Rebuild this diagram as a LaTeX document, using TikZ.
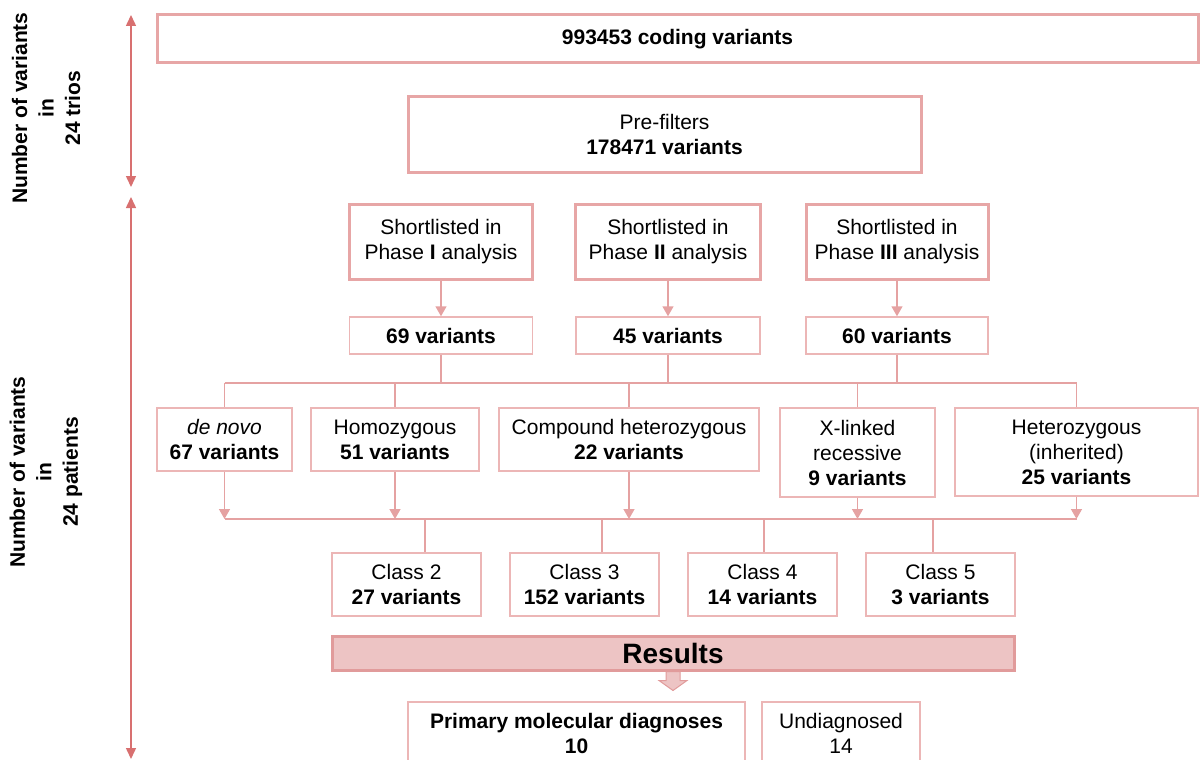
\documentclass[tikz,border=0pt]{standalone}
\usepackage{fontspec}
\setmainfont{Liberation Sans}
\usetikzlibrary{arrows.meta}
\definecolor{boxpink}{RGB}{231,166,166}
\definecolor{thinpink}{RGB}{236,182,182}
\definecolor{linkpink}{RGB}{229,162,162}
\definecolor{sidered}{RGB}{216,112,112}
\definecolor{resfill}{RGB}{237,196,196}
\definecolor{resdraw}{RGB}{225,155,155}

\begin{document}
\begin{tikzpicture}[x=1pt,y=-1pt,
   every node/.style={align=center,inner sep=0pt,font=\fontsize{21}{25}\selectfont},
   thickbox/.style={draw=boxpink,line width=3pt},
   thinbox/.style={draw=thinpink,line width=1.5pt},
   link/.style={draw=linkpink,line width=1.5pt},
   linkarrow/.style={link,-{Triangle[width=11pt,length=10pt]}},
   sidearrow/.style={draw=sidered,line width=1.5pt,
      {Triangle[width=10pt,length=11pt]}-{Triangle[width=10pt,length=11pt]}},
   sidelabel/.style={rotate=90,font=\fontsize{21}{26.5}\selectfont\bfseries}]
   \clip (0,0) rectangle (1203,760);
   % side scales
   \coordinate (trtop) at (131,15);
   \coordinate (trbot) at (131,187);
   \coordinate (patop) at (131,197);
   \coordinate (pabot) at (131,759);
   \draw[sidearrow] (trtop) -- (trbot);
   \draw[sidearrow] (patop) -- (pabot);
   \node[sidelabel] (trios) at (46,108) {Number of variants\\in\\24 trios};
   \node[sidelabel] (patients) at (46,472) {Number of variants\\in\\24 patients};
   % filters
   \node[thickbox,minimum width=1041,minimum height=48] (all) at (677.5,39) {\textbf{993453 coding variants}};
   \node[thickbox,minimum width=513,minimum height=75] (pre) at (664.5,134.5) {Pre-filters\\\textbf{178471 variants}};
   \node[thickbox,minimum width=183,minimum height=75] (ph1) at (441,241.5) {Shortlisted in\\Phase \textbf{I} analysis};
   \node[thickbox,minimum width=185,minimum height=75] (ph2) at (668,241.5) {Shortlisted in\\Phase \textbf{II} analysis};
   \node[thickbox,minimum width=182,minimum height=75] (ph3) at (897,241.5) {Shortlisted in\\Phase \textbf{III} analysis};
   \node[thinbox,minimum width=183,minimum height=37] (n1) at (441,335.5) {\textbf{69 variants}};
   \node[thinbox,minimum width=184,minimum height=37] (n2) at (668,335.5) {\textbf{45 variants}};
   \node[thinbox,minimum width=182,minimum height=37] (n3) at (897,335.5) {\textbf{60 variants}};
   \draw[linkarrow] (ph1) -- (n1);
   \draw[linkarrow] (ph2) -- (n2);
   \draw[linkarrow] (ph3) -- (n3);
   % inheritance models
   \node[thinbox,minimum width=135,minimum height=63] (denovo) at (224.5,439.5) {\textit{de novo}\\\textbf{67 variants}};
   \node[thinbox,minimum width=168,minimum height=63] (homo) at (395,439.5) {Homozygous\\\textbf{51 variants}};
   \node[thinbox,minimum width=260,minimum height=63] (comp) at (629,439.5) {Compound heterozygous\\\textbf{22 variants}};
   \node[thinbox,minimum width=155,minimum height=89] (xlink) at (857.5,452.5) {X-linked\\recessive\\\textbf{9 variants}};
   \node[thinbox,minimum width=243,minimum height=88] (het) at (1076.5,452) {Heterozygous\\(inherited)\\\textbf{25 variants}};
   \coordinate (topbus) at (0,383);
   \coordinate (lowbus) at (0,519);
   \foreach \n in {n1,n2,n3}
      \draw[link] (\n.south) -- (\n.south |- topbus);
   \draw[link] (denovo.north |- topbus) -- (het.north |- topbus);
   \foreach \c in {denovo,homo,comp,xlink,het} {
      \draw[link] (\c.north |- topbus) -- (\c.north);
      \draw[linkarrow] (\c.south) -- (\c.south |- lowbus);
   }
   \draw[link] (denovo.south |- lowbus) -- (het.south |- lowbus);
   % classes
   \node[thinbox,minimum width=149,minimum height=63] (c2) at (406.5,584.5) {Class 2\\\textbf{27 variants}};
   \node[thinbox,minimum width=149,minimum height=63] (c3) at (584.5,584.5) {Class 3\\\textbf{152 variants}};
   \node[thinbox,minimum width=149,minimum height=63] (c4) at (762.5,584.5) {Class 4\\\textbf{14 variants}};
   \node[thinbox,minimum width=149,minimum height=63] (c5) at (940.5,584.5) {Class 5\\\textbf{3 variants}};
   \foreach \c/\x in {c2/425,c3/602,c4/764,c5/933} {
      \coordinate (d\c) at (\x,519);
      \draw[link] (d\c) -- (d\c |- \c.north);
   }
   % results
   \node[draw=resdraw,fill=resfill,line width=3pt,minimum width=682,minimum height=34,
      font=\fontsize{28}{30}\selectfont\bfseries] (res) at (673,653) {Results};
   \filldraw[fill=resfill,draw=resdraw,line width=1pt] ([xshift=-7pt]res.south) -- ++(0,9) -- ++(-7,0)
      -- ++(14,10) -- ++(14,-10) -- ++(-7,0) -- ++(0,-9) -- cycle;
   \node[thinbox,minimum width=337,minimum height=62] (prim) at (576.5,733) {\textbf{Primary molecular diagnoses}\\\textbf{10}};
   \node[thinbox,minimum width=158,minimum height=62] (undiag) at (841,733) {Undiagnosed\\14};
\end{tikzpicture}
\end{document}
